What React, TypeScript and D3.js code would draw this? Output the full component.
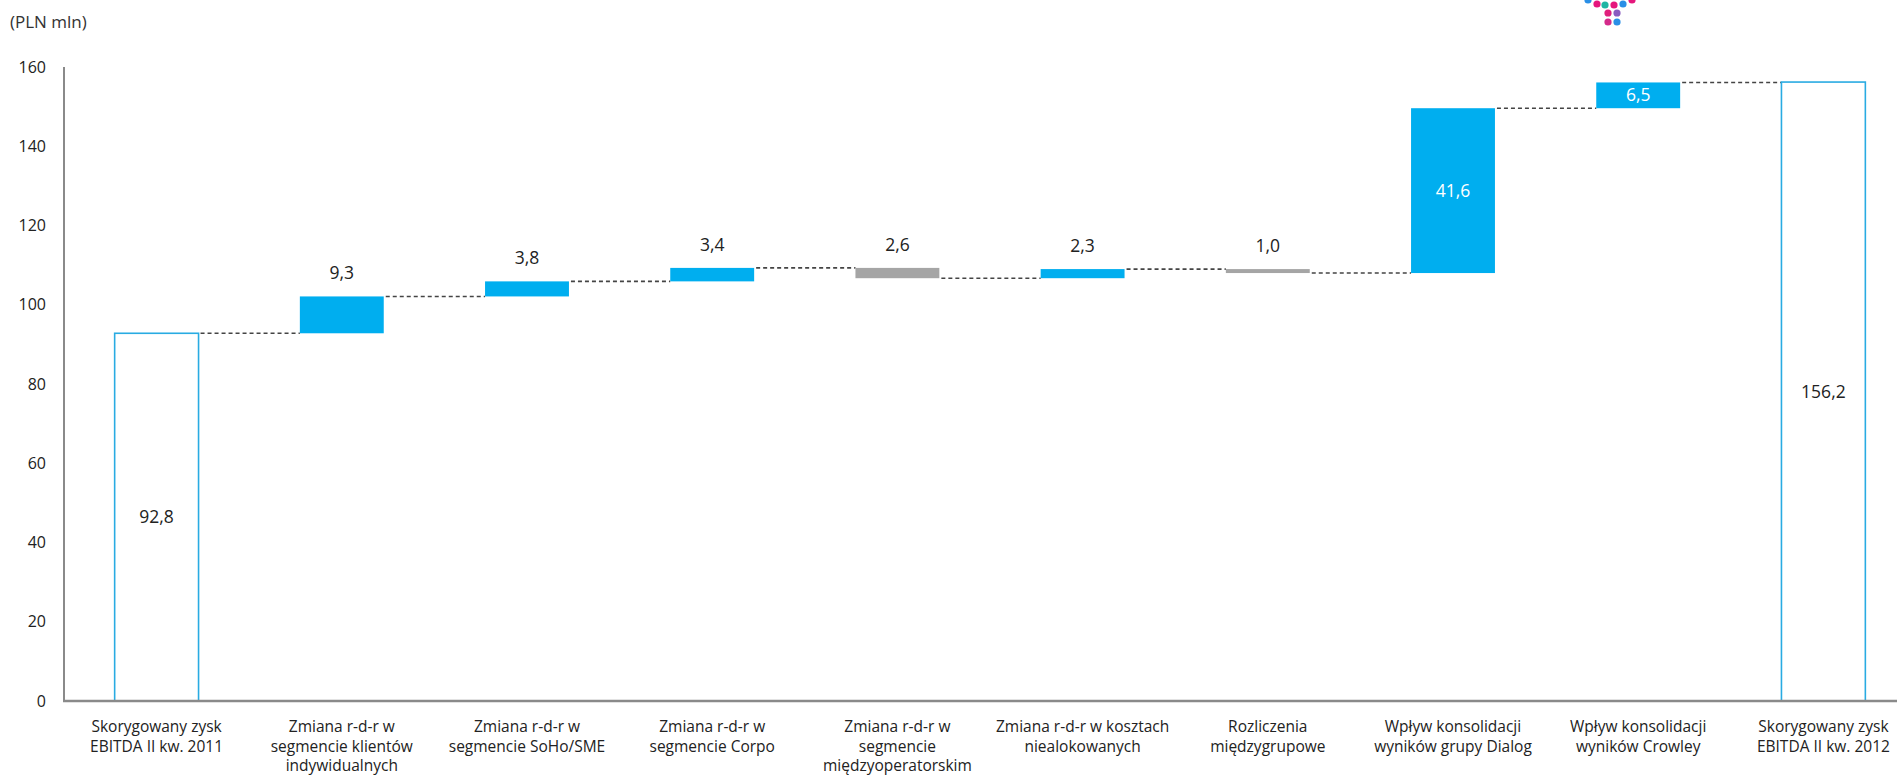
import React from "react";
import * as d3 from "d3";

const categories: string[][] = [
  ["Skorygowany zysk", "EBITDA II kw. 2011"],
  ["Zmiana r-d-r w", "segmencie klientów", "indywidualnych"],
  ["Zmiana r-d-r w", "segmencie SoHo/SME"],
  ["Zmiana r-d-r w", "segmencie Corpo"],
  ["Zmiana r-d-r w", "segmencie", "międzyoperatorskim"],
  ["Zmiana r-d-r w kosztach", "niealokowanych"],
  ["Rozliczenia", "międzygrupowe"],
  ["Wpływ konsolidacji", "wyników grupy Dialog"],
  ["Wpływ konsolidacji", "wyników Crowley"],
  ["Skorygowany zysk", "EBITDA II kw. 2012"],
];

const startValue = 92.8;
const endValue = 156.2;
const changes = [9.3, 3.8, 3.4, -2.6, 2.3, -1.0, 41.6, 6.5];
const changeLabelInside = [false, false, false, false, false, false, true, true];
const yTicks = [0, 20, 40, 60, 80, 100, 120, 140, 160];
const unitLabel = "(PLN mln)";

// decorative logo dots (partially visible at top)
const logoDots: { x: number; y: number; c: string }[] = [
  { x: 1588, y: 0, c: "#2a8fe6" },
  { x: 1632, y: 0, c: "#e5177d" },
  { x: 1597, y: 4, c: "#e5177d" },
  { x: 1605, y: 5, c: "#1fb5a3" },
  { x: 1614, y: 5, c: "#e5177d" },
  { x: 1623, y: 4, c: "#2a8fe6" },
  { x: 1608, y: 13, c: "#e01f7c" },
  { x: 1617, y: 13, c: "#8a5cc0" },
  { x: 1608, y: 22, c: "#d42a8a" },
  { x: 1617, y: 22, c: "#2a8fe6" },
];

const W = 1897;
const H = 778;
const FONT = "'Open Sans', 'Noto Sans', sans-serif";
const BLUE = "#00AEEF";
const GREY = "#A5A5A5";

const fmt = (v: number) => Math.abs(v).toFixed(1).replace(".", ",");

export default function App() {
  const x = d3
    .scaleBand<number>()
    .domain(d3.range(categories.length))
    .range([64, 1916])
    .paddingInner(0.547)
    .paddingOuter(0.547 / 2);
  const y = d3.scaleLinear().domain([0, 160]).range([701, 67]);
  const bw = x.bandwidth();

  const levels: number[] = [startValue];
  changes.forEach((c) => levels.push(levels[levels.length - 1] + c));

  const bars: {
    i: number;
    lo: number;
    hi: number;
    kind: "total" | "up" | "down";
    value: number;
    inside: boolean;
  }[] = [];
  bars.push({ i: 0, lo: 0, hi: startValue, kind: "total", value: startValue, inside: true });
  changes.forEach((c, k) => {
    const a = levels[k];
    const b = levels[k + 1];
    bars.push({
      i: k + 1,
      lo: Math.min(a, b),
      hi: Math.max(a, b),
      kind: c >= 0 ? "up" : "down",
      value: c,
      inside: changeLabelInside[k],
    });
  });
  bars.push({ i: categories.length - 1, lo: 0, hi: endValue, kind: "total", value: endValue, inside: true });

  const connectors = levels.map((lv, k) => ({
    x1: (x(k) as number) + bw,
    x2: x(k + 1) as number,
    y: y(lv),
  }));

  return (
    <svg
      width={W}
      height={H}
      style={{ position: "absolute", left: 0, top: 0, background: "#fff" }}
      fontFamily={FONT}
    >
      <rect x={0} y={0} width={W} height={H} fill="#fff" />
      {logoDots.map((d, k) => (
        <circle key={k} cx={d.x} cy={d.y} r={3.6} fill={d.c} />
      ))}
      <text x={10} y={28} fontSize={17} fill="#333">
        {unitLabel}
      </text>

      {yTicks.map((t) => (
        <text key={t} x={46} y={y(t)} dy="0.35em" textAnchor="end" fontSize={16} fill="#222">
          {t}
        </text>
      ))}

      {connectors.map((c, k) => (
        <line
          key={k}
          x1={c.x1 + 2}
          x2={c.x2}
          y1={c.y}
          y2={c.y}
          stroke="#444"
          strokeWidth={1.6}
          strokeDasharray="4,3"
        />
      ))}

      {bars.map((b) => {
        const bx = x(b.i) as number;
        const top = y(b.hi);
        const h = y(b.lo) - y(b.hi);
        if (b.kind === "total") {
          return (
            <g key={b.i}>
              <rect x={bx} y={top} width={bw} height={h} fill="#fff" stroke="#29ABE2" strokeWidth={1.6} />
              <text x={bx + bw / 2} y={top + h / 2} dy="0.35em" textAnchor="middle" fontSize={17.5} fill="#222">
                {fmt(b.value)}
              </text>
            </g>
          );
        }
        return (
          <g key={b.i}>
            <rect x={bx} y={top} width={bw} height={h} fill={b.kind === "up" ? BLUE : GREY} />
            {b.inside ? (
              <text x={bx + bw / 2} y={top + h / 2} dy="0.35em" textAnchor="middle" fontSize={17.5} fill="#fff">
                {fmt(b.value)}
              </text>
            ) : (
              <text x={bx + bw / 2} y={top - 17} textAnchor="middle" fontSize={17.5} fill="#222">
                {fmt(b.value)}
              </text>
            )}
          </g>
        );
      })}

      <line x1={64} x2={64} y1={67} y2={702} stroke="#8a8a8a" strokeWidth={2} />
      <line x1={63} x2={W} y1={701} y2={701} stroke="#8a8a8a" strokeWidth={2.5} />

      {categories.map((lines, i) => (
        <text key={i} textAnchor="middle" fontSize={15.5} fill="#222">
          {lines.map((ln, j) => (
            <tspan key={j} x={(x(i) as number) + bw / 2} y={732 + j * 19.6}>
              {ln}
            </tspan>
          ))}
        </text>
      ))}
    </svg>
  );
}
